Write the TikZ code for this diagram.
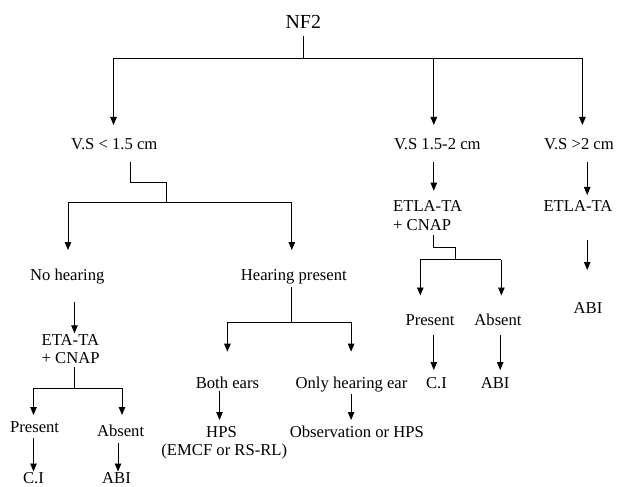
\documentclass[tikz,border=0pt]{standalone}
\usepackage{fontspec}
\setmainfont{Liberation Serif}
\usetikzlibrary{arrows.meta}
\begin{document}
\begin{tikzpicture}[x=1bp,y=-1bp,
  lbl/.style={anchor=base,inner sep=0pt,font=\fontsize{16.7}{18}\selectfont},
  lblw/.style={lbl,anchor=base west},
  ln/.style={line width=0.9bp},
  arr/.style={ln,-{Triangle[length=8bp,width=6.5bp]}}]
\useasboundingbox (0,0) rectangle (620,487);
% ---- texts ----
\node[lbl,font=\fontsize{20}{22}\selectfont] (nf2) at (303.3,28.5) {NF2};
\node[lbl] (vs1) at (114.3,150) {V.S < 1.5 cm};
\node[lbl] (vs2) at (437.3,150) {V.S 1.5-2 cm};
\node[lbl] (vs3) at (579,150) {V.S >2 cm};
\node[lbl] (nh) at (67.2,280) {No hearing};
\node[lbl] (hp) at (293.8,280) {Hearing present};
\node[lblw] (eta1) at (41.5,345) {ETA-TA};
\node[lblw] (eta2) at (41.5,363) {+ CNAP};
\node[lbl] (presL) at (34.6,432) {Present};
\node[lbl] (absL) at (120.6,436) {Absent};
\node[lbl] (ciL) at (33.5,483) {C.I};
\node[lbl] (abiL) at (116.5,483) {ABI};
\node[lbl] (be) at (227.4,388) {Both ears};
\node[lbl] (ohe) at (351.5,388) {Only hearing ear};
\node[lbl] (hps1) at (221.5,437) {HPS};
\node[lbl] (hps2) at (224.3,455) {(EMCF or RS-RL)};
\node[lbl] (obs) at (356.9,437) {Observation or HPS};
\node[lblw] (etla1) at (393,212) {ETLA-TA};
\node[lblw] (etla2) at (393,231) {+ CNAP};
\node[lbl] (presR) at (430,325) {Present};
\node[lbl] (absR) at (498,325) {Absent};
\node[lbl] (ciR) at (436.5,388) {C.I};
\node[lbl] (abiR) at (495.2,388) {ABI};
\node[lbl] (etla3) at (578,212) {ETLA-TA};
\node[lbl] (abi3) at (588,313) {ABI};
% ---- junction coordinates ----
\coordinate (n0) at (303.5,36);
\coordinate (n1) at (303.5,58.3);
\coordinate (bl) at (113.5,58.3);
\coordinate (bm) at (433.8,58.3);
\coordinate (br) at (582.4,58.3);
\coordinate (v1a) at (130.5,161.7);
\coordinate (v1b) at (130.5,182.3);
\coordinate (v1c) at (166.1,182.3);
\coordinate (v1d) at (166.1,202.3);
\coordinate (h1l) at (68,202.3);
\coordinate (h1r) at (291.8,202.3);
\coordinate (nha) at (74.5,301.7);
\coordinate (e1a) at (74,367);
\coordinate (e1b) at (74,388.3);
\coordinate (e1l) at (33.5,388.3);
\coordinate (e1r) at (122,388.3);
\coordinate (pLa) at (33.5,438);
\coordinate (aLa) at (118,443);
\coordinate (hpa) at (291.8,286.7);
\coordinate (hpb) at (291.8,322);
\coordinate (hpl) at (227.4,322);
\coordinate (hpr) at (351.1,322);
\coordinate (bea) at (219.5,391);
\coordinate (ohea) at (351.1,394);
\coordinate (v2a) at (433.8,161.7);
\coordinate (e2a) at (433.5,235);
\coordinate (e2b) at (433.5,247);
\coordinate (e2c) at (455.3,247);
\coordinate (e2d) at (455.3,259.5);
\coordinate (e2l) at (420.3,259.5);
\coordinate (e2r) at (501.4,259.5);
\coordinate (pRa) at (433.8,335);
\coordinate (aRa) at (500.2,335);
\coordinate (v3a) at (587.2,161.7);
\coordinate (e3a) at (587.2,240);
% ---- connectors ----
\draw[ln] (n0) -- (n1);
\draw[ln] (bl) -- (br);
\draw[arr] (bl) -- ++(0,66.7);
\draw[arr] (bm) -- ++(0,66.7);
\draw[arr] (br) -- ++(0,66.7);
\draw[ln] (v1a) -- (v1b) -- (v1c) -- (v1d);
\draw[ln] (h1l) -- (h1r);
\draw[arr] (h1l) -- ++(0,47.7);
\draw[arr] (h1r) -- ++(0,47.7);
\draw[arr] (nha) -- ++(0,31.6);
\draw[ln] (e1a) -- (e1b);
\draw[ln] (e1l) -- (e1r);
\draw[arr] (e1l) -- ++(0,26.7);
\draw[arr] (e1r) -- ++(0,26.7);
\draw[arr] (pLa) -- ++(0,33.5);
\draw[arr] (aLa) -- ++(0,28.5);
\draw[ln] (hpa) -- (hpb);
\draw[ln] (hpl) -- (hpr);
\draw[arr] (hpl) -- ++(0,29.7);
\draw[arr] (hpr) -- ++(0,29.7);
\draw[arr] (bea) -- ++(0,29);
\draw[arr] (ohea) -- ++(0,26);
\draw[arr] (v2a) -- ++(0,29);
\draw[ln] (e2a) -- (e2b) -- (e2c) -- (e2d);
\draw[ln] (e2l) -- (e2r);
\draw[arr] (e2l) -- ++(0,36);
\draw[arr] (e2r) -- ++(0,36);
\draw[arr] (pRa) -- ++(0,35);
\draw[arr] (aRa) -- ++(0,35);
\draw[arr] (v3a) -- ++(0,33.3);
\draw[arr] (e3a) -- ++(0,30);
\end{tikzpicture}
\end{document}
